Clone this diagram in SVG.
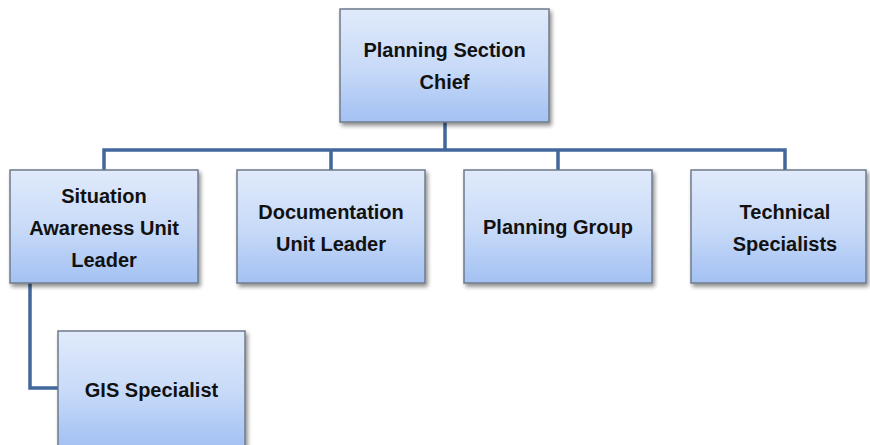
<svg xmlns="http://www.w3.org/2000/svg" width="870" height="445" viewBox="0 0 870 445">
<defs>
<linearGradient id="g" x1="0" y1="0" x2="0" y2="1">
<stop offset="0" stop-color="#e0eafb"/>
<stop offset="0.5" stop-color="#c9dbf8"/>
<stop offset="1" stop-color="#a3c1f3"/>
</linearGradient>
<filter id="sh" x="-10%" y="-10%" width="125%" height="130%">
<feGaussianBlur in="SourceAlpha" stdDeviation="2.2"/>
<feOffset dx="2" dy="3" result="b"/>
<feComponentTransfer><feFuncA type="linear" slope="0.45"/></feComponentTransfer>
<feMerge><feMergeNode/><feMergeNode in="SourceGraphic"/></feMerge>
</filter>
</defs>
<style>
.box{fill:url(#g);stroke:#6f7b8a;stroke-width:1.5;filter:url(#sh)}
.t{font-family:"Liberation Sans",Arial,sans-serif;font-weight:bold;font-size:20px;fill:#111;text-anchor:middle}
.c{fill:none;stroke:#41679c;stroke-width:3.5}
</style>
<rect width="870" height="445" fill="#fff"/>
<g id="connectors">
<path class="c" d="M445 122V150M104 170V150H785V170M331 150V170M558 150V170"/>
<path class="c" d="M30 283V388H58"/>
</g>
<g id="chief">
<rect class="box" x="340" y="9" width="209" height="113"/>
<text class="t" x="444.5" y="57">Planning Section</text>
<text class="t" x="444.5" y="89">Chief</text>
</g>
<g id="situation">
<rect class="box" x="10" y="170" width="188" height="113"/>
<text class="t" x="104" y="203">Situation</text>
<text class="t" x="104" y="235">Awareness Unit</text>
<text class="t" x="104" y="267">Leader</text>
</g>
<g id="documentation">
<rect class="box" x="237" y="170" width="188" height="113"/>
<text class="t" x="331" y="219">Documentation</text>
<text class="t" x="331" y="251">Unit Leader</text>
</g>
<g id="planning-group">
<rect class="box" x="464" y="170" width="188" height="113"/>
<text class="t" x="558" y="234">Planning Group</text>
</g>
<g id="technical">
<rect class="box" x="691" y="170" width="175" height="113"/>
<text class="t" x="785" y="219">Technical</text>
<text class="t" x="785" y="251">Specialists</text>
</g>
<g id="gis">
<rect class="box" x="58" y="331" width="187" height="116"/>
<text class="t" x="151.5" y="397">GIS Specialist</text>
</g>
</svg>
